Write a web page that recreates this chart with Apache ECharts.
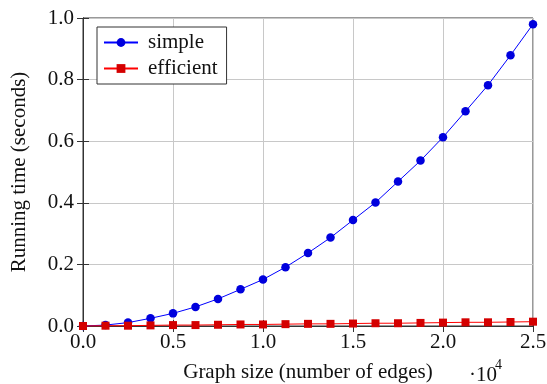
<!DOCTYPE html>
<html>
<head>
<meta charset="utf-8">
<script src="https://cdn.jsdelivr.net/npm/echarts@6/dist/echarts.min.js"></script>
<style>
  html, body { margin: 0; padding: 0; background: #fff; }
  #chart { width: 547px; height: 384px; }
</style>
</head>
<body>
<div id="chart"></div>
<script>
// graph sizes (edges)
var edges = [0, 1250, 2500, 3750, 5000, 6250, 7500, 8750, 10000, 11250, 12500,
    13750, 15000, 16250, 17500, 18750, 20000, 21250, 22500, 23750, 25000];

// running time in seconds
var simpleTimes = [0.000, 0.003, 0.011, 0.025, 0.041, 0.062, 0.088, 0.119, 0.151, 0.191, 0.237,
    0.287, 0.344, 0.401, 0.469, 0.537, 0.613, 0.697, 0.782, 0.879, 0.980];
var efficientTimes = [0.000, 0.001, 0.001, 0.002, 0.003, 0.003, 0.004, 0.005, 0.005, 0.006, 0.007,
    0.007, 0.008, 0.009, 0.009, 0.010, 0.011, 0.012, 0.012, 0.013, 0.014];

var xTicks = [0, 5000, 10000, 15000, 20000, 25000];
var yTicks = [0, 0.2, 0.4, 0.6, 0.8, 1.0];

var serif = '"Liberation Serif", "DejaVu Serif", serif';
var fs = 21;

function pairs(xs, ys) {
    var out = [];
    for (var i = 0; i < xs.length; i++) {
        out.push([xs[i], ys[i]]);
    }
    return out;
}

var chart = echarts.init(document.getElementById('chart'));

var option = {
    animation: false,
    backgroundColor: '#fff',
    grid: {
        left: 83,
        right: 14,
        top: 18,
        bottom: 58,
        outerBoundsMode: 'none',
        containLabel: false,
        show: true,
        borderColor: '#333',
        borderWidth: 1
    },
    legend: {
        left: 97,
        top: 27,
        orient: 'vertical',
        itemWidth: 34,
        itemHeight: 11,
        itemGap: 5,
        padding: [5, 9, 5, 6],
        borderColor: '#333',
        borderWidth: 1,
        backgroundColor: '#fff',
        textStyle: { fontFamily: serif, fontSize: fs, color: '#111', padding: [0, 0, 0, 5] },
        data: ['simple', 'efficient']
    },
    xAxis: [{
        type: 'value',
        min: 0,
        max: 25000,
        interval: 5000,
        name: 'Graph size (number of edges)',
        nameLocation: 'middle',
        nameGap: 36,
        nameTextStyle: { fontFamily: serif, fontSize: fs, color: '#111' },
        axisLine: { show: true, lineStyle: { color: '#333' } },
        axisTick: { show: true, inside: true, length: 6, lineStyle: { color: '#333' } },
        axisLabel: {
            fontFamily: serif, fontSize: fs, color: '#111', margin: 6,
            formatter: function (v) { return (v / 10000).toFixed(1); }
        },
        splitLine: { show: true, lineStyle: { color: '#c8c8c8', width: 1 } }
    }, {
        type: 'value',
        position: 'top',
        min: 0,
        max: 25000,
        interval: 5000,
        axisLine: { show: true, lineStyle: { color: '#333' } },
        axisTick: { show: true, inside: true, length: 6, lineStyle: { color: '#333' } },
        axisLabel: { show: false },
        splitLine: { show: false }
    }],
    yAxis: [{
        type: 'value',
        min: 0,
        max: 1,
        interval: 0.2,
        name: 'Running time (seconds)',
        nameLocation: 'middle',
        nameGap: 53,
        nameTextStyle: { fontFamily: serif, fontSize: fs, color: '#111' },
        axisLine: { show: true, lineStyle: { color: '#333' } },
        axisTick: { show: true, inside: true, length: 6, lineStyle: { color: '#333' } },
        axisLabel: {
            fontFamily: serif, fontSize: fs, color: '#111', margin: 9,
            formatter: function (v) { return v.toFixed(1); }
        },
        splitLine: { show: true, lineStyle: { color: '#c8c8c8', width: 1 } }
    }, {
        type: 'value',
        position: 'right',
        min: 0,
        max: 1,
        interval: 0.2,
        axisLine: { show: true, lineStyle: { color: '#333' } },
        axisTick: { show: true, inside: true, length: 6, lineStyle: { color: '#333' } },
        axisLabel: { show: false },
        splitLine: { show: false }
    }],
    graphic: [{
        type: 'text',
        left: 469,
        top: 365,
        style: { text: '·10', fontFamily: serif, fontSize: fs, fill: '#111' }
    }, {
        type: 'text',
        left: 495,
        top: 358,
        style: { text: '4', fontFamily: serif, fontSize: 14, fill: '#111' }
    }],
    series: [{
        name: 'simple',
        type: 'line',
        data: pairs(edges, simpleTimes),
        symbol: 'circle',
        symbolSize: 8.5,
        clip: false,
        itemStyle: { color: '#0000dd' },
        lineStyle: { color: '#0000ff', width: 1 },
        z: 3
    }, {
        name: 'efficient',
        type: 'line',
        data: pairs(edges, efficientTimes),
        symbol: 'rect',
        symbolSize: 8,
        clip: false,
        itemStyle: { color: '#d40000' },
        lineStyle: { color: '#ff0000', width: 1 },
        z: 4
    }]
};

chart.setOption(option);
</script>
</body>
</html>
